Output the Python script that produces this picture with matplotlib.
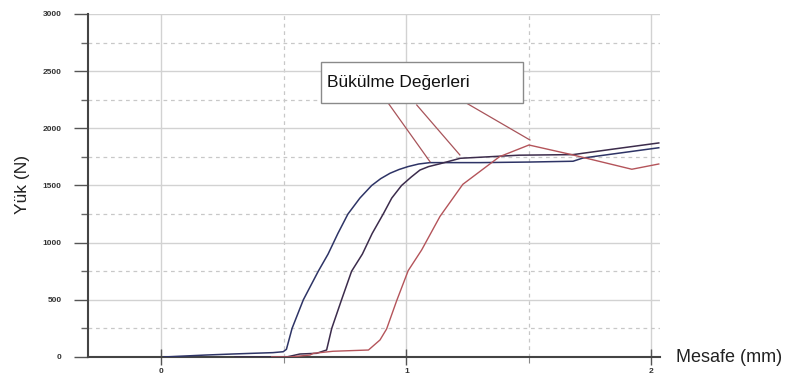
import matplotlib.pyplot as plt
from matplotlib.patches import Rectangle
from matplotlib.ticker import MultipleLocator

# curve data (distance in mm, load in N)
x_blue = [0.01, 0.18, 0.29, 0.37, 0.455, 0.497, 0.51, 0.533, 0.579, 0.64, 0.68,
          0.72, 0.761, 0.81, 0.858, 0.895, 0.933, 0.97, 1.006, 1.05, 1.096,
          1.30, 1.50, 1.68, 1.72, 2.03]
y_blue = [0, 17, 26, 32, 38, 46, 67, 250, 500, 750, 900,
          1080, 1250, 1390, 1500, 1560, 1607, 1640, 1665, 1688, 1700,
          1700, 1705, 1712, 1740, 1830]

x_navy = [0.30, 0.511, 0.565, 0.633, 0.674, 0.695, 0.735, 0.776, 0.82, 0.86,
          0.905, 0.94, 0.98, 1.02, 1.055, 1.09, 1.137, 1.18, 1.22, 1.46,
          1.68, 1.85, 2.03]
y_navy = [0, 0, 26, 32, 61, 250, 500, 750, 900, 1080,
          1250, 1390, 1500, 1575, 1635, 1665, 1690, 1715, 1738, 1765,
          1770, 1820, 1872]

x_red = [0.45, 0.525, 0.606, 0.62, 0.70, 0.845, 0.892, 0.919, 0.96, 1.007,
         1.062, 1.137, 1.23, 1.38, 1.50, 1.668, 1.92, 2.03]
y_red = [0, 0, 17, 32, 50, 61, 149, 245, 492, 755,
         936, 1230, 1510, 1752, 1854, 1773, 1642, 1688]

# annotation leader lines: (start under box, end on curve)
lead_start = [(0.926, 2219), (1.042, 2204), (1.246, 2219)]
lead_end = [(1.096, 1708), (1.218, 1767), (1.504, 1898)]

plt.rcParams['font.family'] = ['Liberation Sans', 'DejaVu Sans']

fig = plt.figure(figsize=(8, 3.78), dpi=100)
ax = fig.add_axes([0.11, 0.0556, 0.715, 0.9074])

ax.plot(x_blue, y_blue, color='#2e3466', lw=1.1, zorder=3)
ax.plot(x_navy, y_navy, color='#3c2c4c', lw=1.1, zorder=3)
ax.plot(x_red, y_red, color='#b4545a', lw=1.0, zorder=3)

ax.set_xlim(-0.30, 2.035)
ax.set_ylim(0, 3000)

ax.xaxis.set_major_locator(MultipleLocator(1))
ax.xaxis.set_minor_locator(MultipleLocator(0.5))
ax.yaxis.set_major_locator(MultipleLocator(500))
ax.yaxis.set_minor_locator(MultipleLocator(250))

ax.grid(which='major', color='#d2d2d2', lw=1.0, ls='-')
ax.grid(which='minor', color='#c8c8c8', lw=0.9, ls=(0, (3, 3)))
ax.set_axisbelow(True)

for s in ['top', 'right']:
    ax.spines[s].set_visible(False)
for s in ['left', 'bottom']:
    ax.spines[s].set_color('#444444')
    ax.spines[s].set_linewidth(1.5)

ax.tick_params(axis='y', which='major', length=10, width=1.0, color='#555555',
               labelsize=6, labelcolor='#333333', pad=9)
ax.tick_params(axis='y', which='minor', length=5, width=1.0, color='#666666')
ax.tick_params(axis='x', which='major', length=12, width=1.0, color='#555555',
               direction='inout', labelsize=6, labelcolor='#333333', pad=2)
ax.tick_params(axis='x', which='minor', length=4, width=0.8, color='#888888')
for lab in ax.get_xticklabels() + ax.get_yticklabels():
    lab.set_fontweight('bold')

# annotation box and leader lines
ax.add_patch(Rectangle((0.652, 2219), 0.823, 364, facecolor='white',
                       edgecolor='#8a8a8a', lw=1.0, zorder=4))
ax.text(0.676, 2405, 'Bükülme Değerleri', fontsize=12.5, color='#111111',
        va='center', ha='left', zorder=5)
for (xs, ys), (xe, ye) in zip(lead_start, lead_end):
    ax.plot([xs, xe], [ys, ye], color='#a8545a', lw=0.9, zorder=3)

fig.text(22 / 800, 1 - 185 / 378, 'Yük (N)', rotation=90, fontsize=12.5,
         va='center', ha='center', color='#222222')
fig.text(676 / 800, 1 - 357 / 378, 'Mesafe (mm)', fontsize=13,
         va='center', ha='left', color='#222222')

fig.savefig('out.png', dpi=100)
